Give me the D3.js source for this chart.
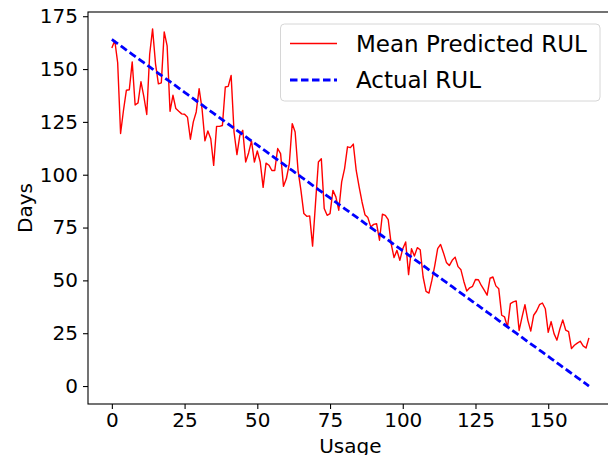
<!DOCTYPE html>
<html><head><meta charset="utf-8">
<script src="https://cdn.jsdelivr.net/npm/d3@7"></script>
<style>
body{margin:0;background:#fff}
svg{display:block}
text{font-family:"DejaVu Sans",sans-serif;fill:#000}
</style>
</head><body><svg id="c" width="608" height="455"></svg>
<script>
// ---- data ----
const usage = [0,1,2,3,4,5,6,7,8,9,10,11,12,13,14,15,16,17,18,19,20,21,22,23,24,25,26,27,28,29,30,31,32,33,34,35,36,37,38,39,40,41,42,43,44,45,46,47,48,49,50,51,52,53,54,55,56,57,58,59,60,61,62,63,64,65,66,67,68,69,70,71,72,73,74,75,76,77,78,79,80,81,82,83,84,85,86,87,88,89,90,91,92,93,94,95,96,97,98,99,100,101,102,103,104,105,106,107,108,109,110,111,112,113,114,115,116,117,118,119,120,121,122,123,124,125,126,127,128,129,130,131,132,133,134,135,136,137,138,139,140,141,142,143,144,145,146,147,148,149,150,151,152,153,154,155,156,157,158,159,160,161,162,163,164];
const meanPredictedRUL = [160,163.5,153,119.5,130.5,140,140.2,153.4,133,134,144,137,128.5,157,169,152.6,143,143.5,167.6,161,130,137.6,131.3,130,128.8,128.6,127.2,116.8,125,129.7,140.7,131.2,116,120.7,117,104.4,122.9,122.9,123.3,141.5,141.8,147,120.2,109.5,118.6,121,106,110.3,116,106,111.2,106,94,105.5,104.5,102,102,112.4,110,94.5,98.2,105.2,124.2,120.2,102.1,92.6,81.6,80.3,80.5,66.2,86.3,106,107.6,84,80.8,81.6,92.6,89.5,83.2,96.6,102.9,113.2,112.8,114.5,102,94.2,87.1,81.1,79.7,75.3,76.5,76.8,69,81.3,80.8,78.7,67.4,60.8,64.2,59.5,65,68.2,52.7,65,61.5,65.5,64.5,51.6,44.8,44,50,57,65,67,63,58.5,57,59.5,61,56.5,55,49.5,45,46.5,47.2,50.4,50.3,47.6,45.4,43,51,51.6,47.4,46,33.5,32.7,27.8,39,39.8,40.3,26.3,32.6,38.5,31.1,26,33.5,35.5,38.5,39.3,36.6,25.4,30.5,24.8,21.7,27,31.3,26.5,25.8,17.7,19.3,20.3,21.2,19,18,22.8];
const actualRUL = [164,163,162,161,160,159,158,157,156,155,154,153,152,151,150,149,148,147,146,145,144,143,142,141,140,139,138,137,136,135,134,133,132,131,130,129,128,127,126,125,124,123,122,121,120,119,118,117,116,115,114,113,112,111,110,109,108,107,106,105,104,103,102,101,100,99,98,97,96,95,94,93,92,91,90,89,88,87,86,85,84,83,82,81,80,79,78,77,76,75,74,73,72,71,70,69,68,67,66,65,64,63,62,61,60,59,58,57,56,55,54,53,52,51,50,49,48,47,46,45,44,43,42,41,40,39,38,37,36,35,34,33,32,31,30,29,28,27,26,25,24,23,22,21,20,19,18,17,16,15,14,13,12,11,10,9,8,7,6,5,4,3,2,1,0];
const xTicks = [0,25,50,75,100,125,150];
const yTicks = [0,25,50,75,100,125,150,175];
const seriesNames = ["Mean Predicted RUL","Actual RUL"];
const xLabel = "Usage", yLabel = "Days";

// ---- chart ----
const svg = d3.select("#c");
const L = 88, R = 612.8, T = 12, B = 404;
const x = d3.scaleLinear().domain([-8.2, 172.2]).range([L, R]);
const y = d3.scaleLinear().domain([-8.5, 177]).range([B, T]);

svg.append("rect").attr("width",608).attr("height",455).attr("fill","#fff");

const line = d3.line().x((d,i)=>x(usage[i])).y(d=>y(d));

svg.append("path").datum(meanPredictedRUL).attr("d", line)
  .attr("fill","none").attr("stroke","#ff0000").attr("stroke-width",1.4)
  .attr("stroke-linejoin","round");
svg.append("path").datum(actualRUL).attr("d", line)
  .attr("fill","none").attr("stroke","#0000ff").attr("stroke-width",2.8)
  .attr("stroke-dasharray","7.5,3.5");

// axes
const xa = svg.append("g").attr("transform",`translate(0,${B})`)
  .call(d3.axisBottom(x).tickValues(xTicks).tickSize(5).tickPadding(4).tickFormat(d3.format("d")));
const ya = svg.append("g").attr("transform",`translate(${L},0)`)
  .call(d3.axisLeft(y).tickValues(yTicks).tickSize(5).tickPadding(5).tickFormat(d3.format("d")));
[xa,ya].forEach(g=>{
  g.select(".domain").remove();
  g.selectAll(".tick line").attr("stroke","#000").attr("stroke-width",1.1);
  g.selectAll(".tick text").attr("font-size",20).attr("font-family","DejaVu Sans").attr("fill","#000");
});

// frame
svg.append("rect").attr("x",L).attr("y",T).attr("width",R-L).attr("height",B-T)
  .attr("fill","none").attr("stroke","#000").attr("stroke-width",1.1);

// labels
svg.append("text").attr("x",(L+R)/2).attr("y",453).attr("text-anchor","middle")
  .attr("font-size",20).text(xLabel);
svg.append("text").attr("transform",`translate(32,${(T+B)/2}) rotate(-90)`)
  .attr("text-anchor","middle").attr("font-size",20).text(yLabel);

// legend
const lg = svg.append("g");
lg.append("rect").attr("x",280.5).attr("y",24).attr("width",319.5).attr("height",77)
  .attr("rx",4).attr("fill","#fff").attr("fill-opacity",0.8)
  .attr("stroke","#d6d6d6").attr("stroke-width",1);
lg.append("line").attr("x1",290).attr("x2",337).attr("y1",43.5).attr("y2",43.5)
  .attr("stroke","#ff0000").attr("stroke-width",1.4);
lg.append("line").attr("x1",290).attr("x2",337).attr("y1",80).attr("y2",80)
  .attr("stroke","#0000ff").attr("stroke-width",2.8).attr("stroke-dasharray","7.5,3.5");
lg.append("text").attr("x",356).attr("y",52).attr("font-size",23).text(seriesNames[0]);
lg.append("text").attr("x",356).attr("y",88).attr("font-size",23).text(seriesNames[1]);
</script>
</body></html>
